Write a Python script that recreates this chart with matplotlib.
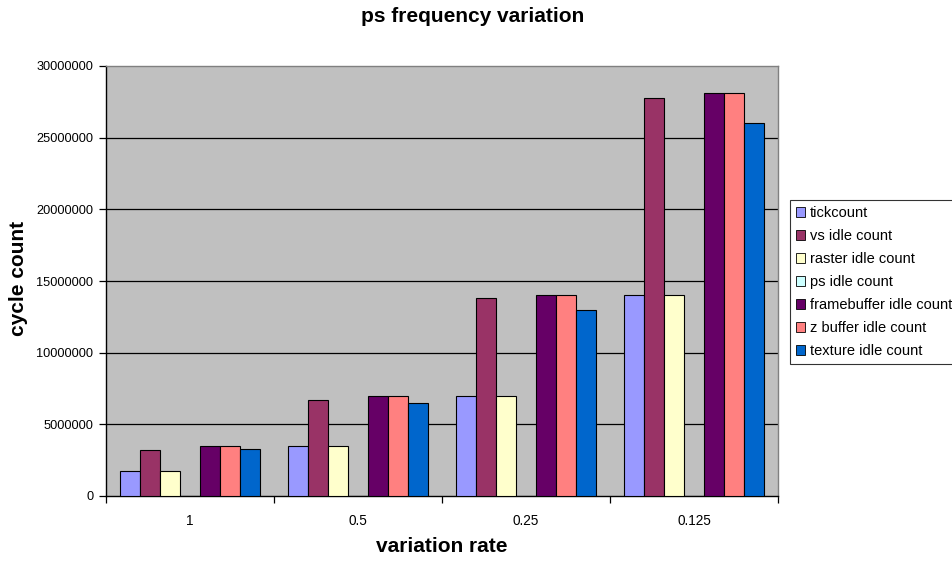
import matplotlib.pyplot as plt
import numpy as np
from matplotlib.patches import Patch

plt.rcParams["font.family"] = ["Liberation Sans", "DejaVu Sans"]

CATEGORIES = ["1", "0.5", "0.25", "0.125"]
SERIES = [
    "tickcount",
    "vs idle count",
    "raster idle count",
    "ps idle count",
    "framebuffer idle count",
    "z buffer idle count",
    "texture idle count",
]
TICKCOUNT = [1750000, 3500000, 7000000, 14050000]
VS_IDLE = [3200000, 6700000, 13800000, 27800000]
RASTER_IDLE = [1750000, 3500000, 7000000, 14050000]
PS_IDLE = [0, 0, 0, 0]
FRAMEBUFFER_IDLE = [3500000, 7000000, 14050000, 28100000]
ZBUFFER_IDLE = [3500000, 7000000, 14050000, 28100000]
TEXTURE_IDLE = [3280000, 6500000, 13000000, 26050000]
Y_TICKS = [0, 5000000, 10000000, 15000000, 20000000, 25000000, 30000000]

COLORS = ["#9999ff", "#993366", "#ffffcc", "#ccffff", "#660066", "#ff8080", "#0066cc"]

values = [TICKCOUNT, VS_IDLE, RASTER_IDLE, PS_IDLE, FRAMEBUFFER_IDLE, ZBUFFER_IDLE, TEXTURE_IDLE]

fig = plt.figure(figsize=(9.53, 5.61), dpi=100)
ax = fig.add_axes([106 / 953, 65 / 561, 672 / 953, 430 / 561])
ax.set_facecolor("#c0c0c0")

# seven bars per group, small margin on each side of the group
bar_w = 20 / 168
x = np.arange(len(CATEGORIES))
for i, (name, vals) in enumerate(zip(SERIES, values)):
    offsets = x - 0.5 + 14 / 168 + bar_w * (i + 0.5)
    ax.bar(offsets, vals, width=bar_w, color=COLORS[i], edgecolor="#000000",
           linewidth=0.8, zorder=3, label=name)

ax.set_xlim(-0.5, len(CATEGORIES) - 0.5)
ax.set_ylim(0, 30000000)
ax.set_yticks(Y_TICKS)
ax.set_yticklabels([str(v) for v in Y_TICKS], fontsize=9.2)
for v in Y_TICKS[1:-1]:
    ax.axhline(v, color="#000000", linewidth=0.9, zorder=1)

ax.set_xticks(x)
ax.set_xticklabels(CATEGORIES, fontsize=9.8)
ax.tick_params(axis="x", length=0, pad=13)
ax.set_xticks(np.arange(len(CATEGORIES) + 1) - 0.5, minor=True)
ax.tick_params(axis="x", which="minor", length=5, width=0.9, direction="out")
ax.tick_params(axis="y", length=5, width=0.9, direction="out", pad=4)

ax.spines["left"].set_color("#000000")
ax.spines["bottom"].set_color("#000000")
ax.spines["top"].set_color("#808080")
ax.spines["right"].set_color("#808080")
for s in ax.spines.values():
    s.set_linewidth(1.0)

fig.text(473 / 953, 1 - 17 / 561, "ps frequency variation", ha="center", va="center",
         fontsize=15, fontweight="bold")
fig.text(19 / 953, 1 - 278 / 561, "cycle count", ha="center", va="center",
         rotation=90, fontsize=15, fontweight="bold")
fig.text(442 / 953, 1 - 547 / 561, "variation rate", ha="center", va="center",
         fontsize=15, fontweight="bold")

handles = [Patch(facecolor=c, edgecolor="#000000", linewidth=0.6, label=n)
           for c, n in zip(COLORS, SERIES)]
leg = fig.legend(handles=handles, loc="upper left",
                 bbox_to_anchor=(790 / 953, 1 - 200 / 561), fontsize=10.5,
                 frameon=True, fancybox=False, edgecolor="#000000",
                 handlelength=0.65, handleheight=0.65, handletextpad=0.3,
                 labelspacing=0.62, borderpad=0.4, borderaxespad=0)
leg.get_frame().set_linewidth(0.8)

fig.savefig("out.png", dpi=100, facecolor="white")
